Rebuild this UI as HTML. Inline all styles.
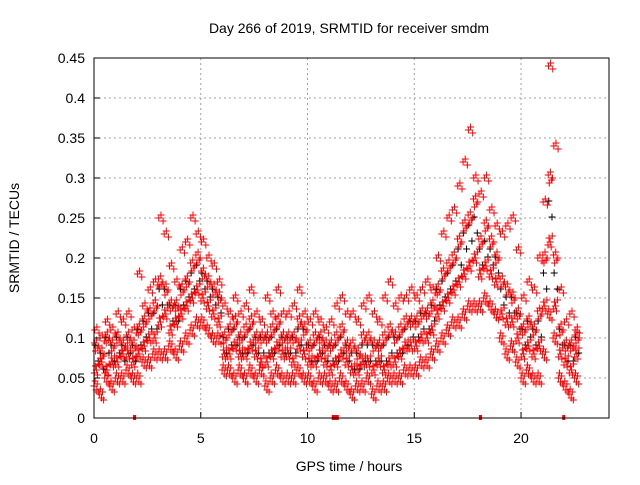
<!DOCTYPE html>
<html><head><meta charset="utf-8"><style>
body{margin:0;background:#fff}
svg text{font-family:"Liberation Sans",sans-serif;font-size:14px;fill:#000}
</style></head><body>
<svg id="c" width="640" height="480" xmlns="http://www.w3.org/2000/svg">
<rect width="640" height="480" fill="#fff"/>
<text x="349" y="33" text-anchor="middle">Day 266 of 2019, SRMTID for receiver smdm</text>
<text x="349" y="471" text-anchor="middle">GPS time / hours</text>
<text transform="translate(19,238) rotate(-90)" text-anchor="middle">SRMTID / TECUs</text>
<g id="grid"></g><g id="marks"></g><g id="axes"></g>
</svg>
<script>
const xTicks=[0,5,10,15,20];
const yTicks=[0,0.05,0.1,0.15,0.2,0.25,0.3,0.35,0.4,0.45];
const yTickLabels=["0","0.05","0.1","0.15","0.2","0.25","0.3","0.35","0.4","0.45"];
const binStart=0, binStep=0.25;
const lowVals=[.04,.03,.05,.04,.05,.05,.06,.05,.05,.07,.07,.08,.08,.08,.09,.08,.09,.10,.11,.12,.12,.11,.10,.10,.06,.06,.05,.06,.05,.06,.05,.06,.04,.05,.06,.05,.05,.05,.06,.05,.05,.04,.05,.05,.04,.04,.05,.04,.03,.04,.04,.05,.03,.04,.04,.05,.05,.05,.06,.06,.06,.07,.07,.08,.09,.10,.11,.12,.12,.13,.14,.14,.14,.15,.14,.13,.10,.08,.09,.07,.05,.06,.05,.05,.08,.13,.10,.05,.04,.03,.05];
const midLowVals=[.06,.07,.06,.07,.07,.08,.08,.07,.08,.09,.10,.10,.12,.13,.11,.12,.13,.14,.15,.16,.15,.14,.13,.12,.08,.08,.09,.08,.08,.09,.08,.07,.07,.08,.09,.08,.08,.07,.09,.08,.07,.07,.08,.07,.06,.07,.08,.07,.06,.06,.07,.07,.06,.07,.06,.07,.07,.08,.09,.09,.09,.10,.10,.11,.13,.14,.15,.16,.17,.18,.19,.20,.18,.19,.18,.17,.13,.12,.12,.10,.08,.09,.08,.09,.14,.22,.14,.08,.07,.06,.08];
const midHighVals=[.09,.08,.10,.09,.10,.09,.10,.09,.11,.12,.13,.14,.17,.16,.14,.14,.16,.17,.19,.20,.18,.17,.16,.15,.10,.11,.12,.10,.11,.12,.10,.10,.10,.11,.12,.10,.10,.10,.12,.11,.09,.10,.10,.09,.09,.10,.11,.09,.09,.08,.10,.10,.09,.09,.10,.11,.10,.11,.12,.12,.12,.13,.13,.14,.16,.18,.19,.20,.22,.24,.25,.27,.22,.24,.22,.20,.17,.16,.15,.13,.11,.12,.11,.13,.20,.30,.20,.11,.09,.09,.10];
const highVals=[.11,.10,.12,.11,.13,.12,.13,.11,.18,.14,.16,.17,.25,.23,.19,.17,.21,.22,.25,.23,.22,.20,.19,.17,.14,.13,.15,.13,.14,.16,.13,.12,.15,.13,.16,.13,.13,.14,.16,.13,.12,.13,.12,.11,.12,.14,.15,.13,.13,.12,.14,.15,.13,.12,.15,.17,.14,.15,.15,.16,.15,.16,.17,.16,.20,.23,.25,.26,.29,.32,.36,.30,.28,.30,.26,.24,.23,.24,.25,.21,.15,.17,.16,.20,.27,.44,.34,.16,.12,.13,.11];
const blackVals=[.08,.07,.09,.08,.09,.08,.09,.08,.10,.11,.12,.12,.15,.15,.13,.13,.15,.16,.17,.18,.17,.16,.15,.14,.09,.10,.10,.09,.09,.10,.09,.09,.09,.09,.10,.09,.09,.09,.10,.10,.08,.08,.09,.08,.08,.08,.09,.08,.07,.07,.08,.08,.08,.08,.08,.09,.09,.09,.10,.11,.11,.12,.12,.13,.15,.16,.17,.18,.20,.22,.23,.24,.20,.21,.20,.19,.15,.14,.14,.12,.10,.11,.10,.11,.17,.26,.17,.10,.08,.08,.09];
const gapTimes=[1.9,11.3,18.1,22.0];
const gapWidths=[1,3,1,1];

const L=94,R=609,T=58,B=418,XMAX=24.12;
const xs=v=>L+(v-0)/(XMAX-0)*(R-L);
const ys=v=>B-(v-0)/(0.45-0)*(B-T);
const NS="http://www.w3.org/2000/svg";
function mk(tag,parent){const e=document.createElementNS(NS,tag);parent.appendChild(e);return e;}
const grid=document.getElementById('grid'),marks=document.getElementById('marks'),axes=document.getElementById('axes');
xTicks.forEach(t=>{
  const x=xs(t);
  if(t>0){const g=mk('line',grid);g.setAttribute('x1',x);g.setAttribute('x2',x);g.setAttribute('y1',T);g.setAttribute('y2',B);g.setAttribute('stroke','#a0a0a0');g.setAttribute('stroke-dasharray','2,3');
  
  }
  const tk=mk('line',axes);tk.setAttribute('x1',x);tk.setAttribute('x2',x);tk.setAttribute('y1',B);tk.setAttribute('y2',B-6);tk.setAttribute('stroke','#000');
  
  
  const tx=mk('text',axes);tx.setAttribute('x',x);tx.setAttribute('y',B+25);tx.setAttribute('text-anchor','middle');tx.textContent=t;
  
  
});
yTicks.forEach((t,i)=>{
  const y=ys(t);
  if(t>0&&i<yTicks.length-1){const g=mk('line',grid);g.setAttribute('x1',L);g.setAttribute('x2',R);g.setAttribute('y1',y);g.setAttribute('y2',y);g.setAttribute('stroke','#a0a0a0');g.setAttribute('stroke-dasharray','2,3');
  
  }
  const tk=mk('line',axes);tk.setAttribute('x1',L);tk.setAttribute('x2',L+6);tk.setAttribute('y1',y);tk.setAttribute('y2',y);tk.setAttribute('stroke','#000');
  
  
  const tx=mk('text',axes);tx.setAttribute('x',L-9);tx.setAttribute('y',y+5);tx.setAttribute('text-anchor','end');tx.textContent=yTickLabels[i];
  
  
});
const box=mk('rect',axes);box.setAttribute('x',L);box.setAttribute('y',T);box.setAttribute('width',R-L);box.setAttribute('height',B-T);box.setAttribute('fill','none');box.setAttribute('stroke','#000');


function plus(x,y,col,name){
  const p=mk('path',marks);p.setAttribute('d',`M${x-3.5},${y}h7M${x},${y-3.5}v7`);p.setAttribute('stroke',col);p.setAttribute('stroke-width','1');p.setAttribute('fill','none');
  
  
}
blackVals.forEach((v,i)=>{const t=binStart+i*binStep;plus(xs(t+0.2),ys(v)+7,'#000','black-point');plus(xs(t+0.05),ys(v)-9,'#000','black-point');});
// fixed scatter pattern (rendering spread only)
const spreadDx=[0,0.05,0.1,0.15,0.2];
const spreadDy=[[0,-5,4,-2,6],[3,-4,0,5,-6],[-3,5,-6,2,0],[0,4,-3,-6,3]];
[lowVals,midLowVals,midHighVals,highVals].forEach((arr,s)=>{
  arr.forEach((v,i)=>{
    const t=binStart+i*binStep;
    spreadDx.forEach((dx,k)=>{
      if(s===3&&k%2===1) return;
      plus(xs(t+dx+s*0.012),ys(v)+spreadDy[s][k],'#f00','srmtid-point');
    });
  });
});
gapTimes.forEach((t,i)=>{
  const r=mk('rect',marks);const w=gapWidths[i]*2+1;r.setAttribute('x',xs(t)-w/2);r.setAttribute('y',B-3);r.setAttribute('width',w);r.setAttribute('height',5);r.setAttribute('fill','#f00');
  
  
});
</script>
</body></html>
